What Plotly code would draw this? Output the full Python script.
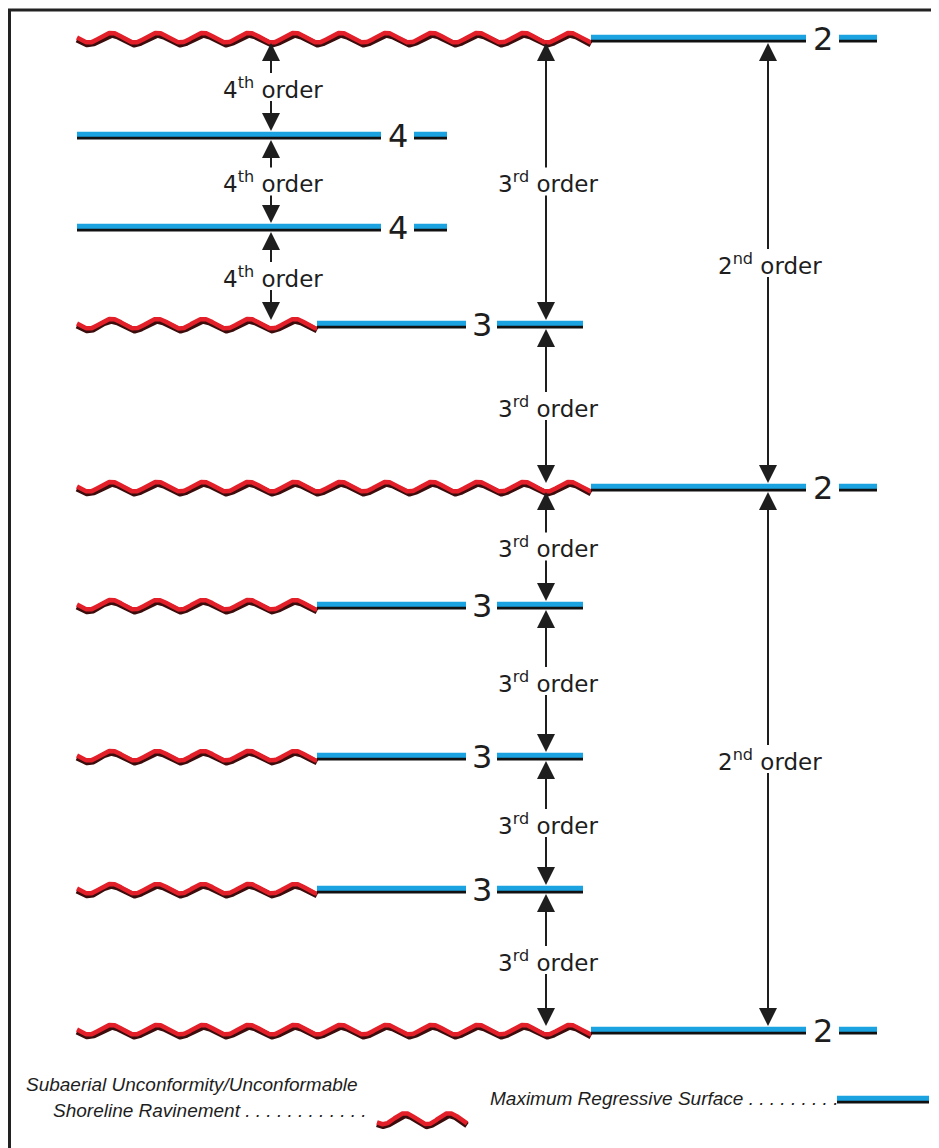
import numpy as np
import plotly.graph_objects as go

# stratigraphic surfaces, top to bottom (position in picture units) and their order
surface_y = [38, 135, 227, 324, 487, 605, 756, 889, 1030]
surface_order = [2, 4, 4, 3, 2, 3, 3, 3, 2]
order_names = {2: "2<sup>nd</sup> order", 3: "3<sup>rd</sup> order", 4: "4<sup>th</sup> order"}

# legend entries
legend_su = "Subaerial Unconformity/Unconformable"
legend_su2 = "Shoreline Ravinement . . . . . . . . . . . ."
legend_mrs = "Maximum Regressive Surface . . . . . . . . ."

# drawing set-up (layout only)
W, H = 939, 1148
PAD = 8  # the page body margin
x_start = 77
wave_end = {2: 591, 3: 317, 4: None}
line_end = {2: 806, 3: 466, 4: 381}
num_x = {2: 823, 3: 482, 4: 398}
dash_x = {2: (839, 877), 3: (497, 583), 4: (414, 447)}
arrow_col = {4: 271, 3: 546, 2: 768}
period, amp, trough_x = 45.83, 4.8, 272

RED, RED_DK = "#e3202a", "#3b0d0d"
BLUE, BLUE_DK = "#1aa3e0", "#111111"
INK = "#1e1e1e"

fig = go.Figure()


def wave(x0, x1, yc, a=amp, p=period, tx=trough_x, n=None):
    xs = np.linspace(x0, x1, n or int((x1 - x0) * 2) + 2)
    ys = yc + a * np.cos(2 * np.pi * (xs - tx) / p)
    fig.add_trace(go.Scatter(x=xs, y=ys + 1.6, mode="lines", line=dict(color=RED_DK, width=6),
                             hoverinfo="skip", showlegend=False))
    fig.add_trace(go.Scatter(x=xs, y=ys - 0.3, mode="lines", line=dict(color=RED, width=4.5),
                             hoverinfo="skip", showlegend=False))


def blue(x0, x1, yc):
    fig.add_trace(go.Scatter(x=[x0, x1], y=[yc + 2, yc + 2], mode="lines",
                             line=dict(color=BLUE_DK, width=5), hoverinfo="skip", showlegend=False))
    fig.add_trace(go.Scatter(x=[x0, x1], y=[yc - 0.8, yc - 0.8], mode="lines",
                             line=dict(color=BLUE, width=5), hoverinfo="skip", showlegend=False))


# surfaces
for y, o in zip(surface_y, surface_order):
    xb = x_start
    if wave_end[o]:
        wave(x_start, wave_end[o], y)
        xb = wave_end[o]
    blue(xb, line_end[o], y)
    blue(dash_x[o][0], dash_x[o][1], y)
    fig.add_annotation(x=num_x[o], y=y, text=str(o), showarrow=False,
                       font=dict(family="DejaVu Sans", size=32, color=INK), yshift=-1)

# order arrows: between successive surfaces of the same or lower order number
for o in (4, 3, 2):
    idx = [i for i, so in enumerate(surface_order) if so <= o]
    pairs = [(idx[k], idx[k + 1]) for k in range(len(idx) - 1)]
    if o == 4:
        pairs = [(a, b) for a, b in pairs if surface_order[a] == 4 or surface_order[b] == 4]
    for a, b in pairs:
        top, bot = surface_y[a], surface_y[b]
        mid = (top + bot) / 2
        cx = arrow_col[o]
        for tip, tail in ((top + 5, mid - 12), (bot - 4, mid + 13)):
            fig.add_annotation(x=cx, y=tip, ax=cx, ay=tail, xref="x", yref="y", axref="x", ayref="y",
                               text="", showarrow=True, arrowhead=2, arrowsize=1.8, arrowwidth=2,
                               arrowcolor=INK, standoff=0, startstandoff=0)
        fig.add_annotation(x=cx + 2, y=mid + 1, text=order_names[o], showarrow=False,
                           font=dict(family="DejaVu Sans", size=23, color=INK))

# legend
wave(377, 467, 1119, a=5.5, p=44, tx=383, n=200)
blue(837, 929, 1099)
fig.add_annotation(x=24, y=1084, text="<i>" + legend_su + "</i>", showarrow=False, xanchor="left",
                   font=dict(family="Liberation Sans", size=19, color=INK))
fig.add_annotation(x=51, y=1110, text="<i>" + legend_su2 + "</i>", showarrow=False, xanchor="left",
                   font=dict(family="Liberation Sans", size=19, color=INK))
fig.add_annotation(x=488, y=1098, text="<i>" + legend_mrs + "</i>", showarrow=False, xanchor="left",
                   font=dict(family="Liberation Sans", size=19, color=INK))

# frame
fig.add_shape(type="rect", x0=PAD + 1.5, y0=10, x1=W + 10, y1=H + 10, xref="x", yref="y",
              line=dict(color="#222222", width=3), layer="below")

fig.update_layout(
    width=W - PAD, height=H - PAD, autosize=False,
    margin=dict(l=0, r=0, t=0, b=0),
    paper_bgcolor="white", plot_bgcolor="white",
    xaxis=dict(range=[PAD, W], visible=False, fixedrange=True),
    yaxis=dict(range=[H, PAD], visible=False, fixedrange=True),
    showlegend=False,
)

fig.write_html("out.html")
